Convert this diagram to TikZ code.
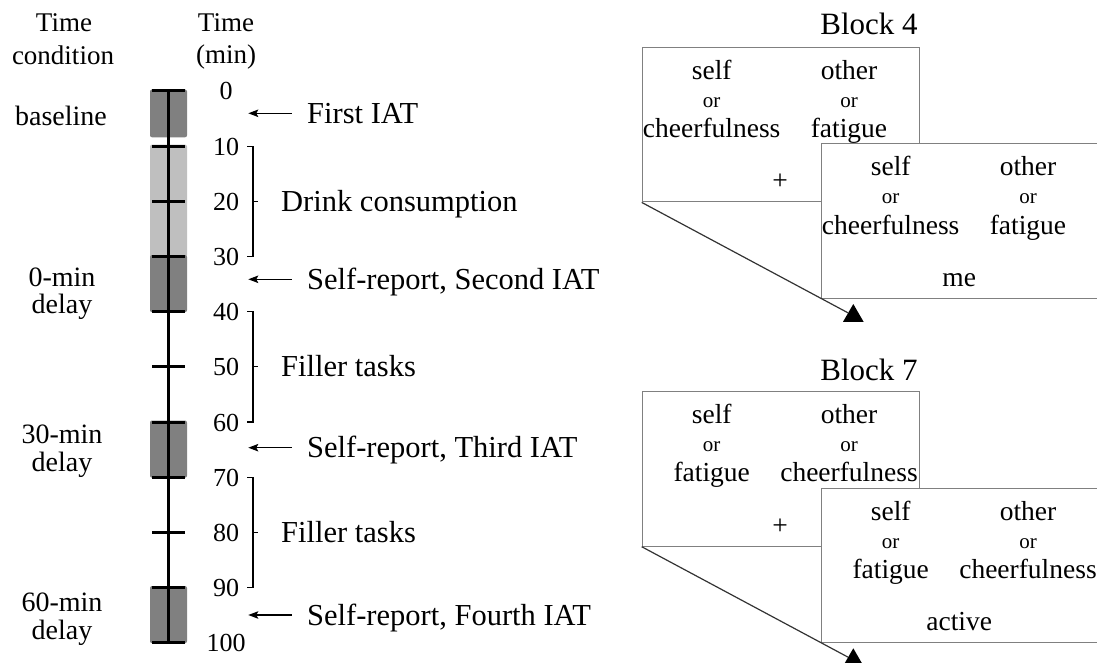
\documentclass[tikz,border=0pt]{standalone}
\usepackage{fontspec}
\setmainfont{Liberation Serif}
\usetikzlibrary{arrows.meta,positioning,shapes.geometric}

\tikzset{
  lbl/.style={font=\fontsize{27}{30}\selectfont, inner sep=0pt},
  cond/.style={font=\fontsize{28}{31}\selectfont, inner sep=0pt, anchor=base},
  num/.style={font=\fontsize{26}{29}\selectfont, inner sep=0pt, text height=18pt, text depth=0pt},
  event/.style={font=\fontsize{30.5}{34}\selectfont, inner sep=0pt, anchor=west,
    text height=20pt, text depth=0pt},
  blocklbl/.style={font=\fontsize{31}{34}\selectfont, inner sep=0pt, anchor=base},
  word/.style={font=\fontsize{27.5}{30}\selectfont, inner sep=0pt, anchor=base},
  orword/.style={font=\fontsize{21}{24}\selectfont, inner sep=0pt, anchor=base},
  screen/.style={draw=black!50, line width=1.2pt, fill=white, inner sep=0pt,
    minimum width=277pt, minimum height=154.5pt},
  phase/.style={rounded corners=2pt},
  link/.style={draw=black!80, line width=1.2pt},
  pointer/.style={regular polygon, regular polygon sides=3, fill=black,
    inner sep=0pt, minimum size=23.8pt},
}

% one IAT screen: name, top left corner, left word, right word, bottom text
\newcommand{\iatscreen}[5]{%
  \node[screen, anchor=north west] (#1) at (#2) {};
  \node[word]   (#1-l1) at ([shift={(70,32.6)}]#1.north west) {self};
  \node[orword] (#1-l2) at ([shift={(70,60.6)}]#1.north west) {or};
  \node[word]   (#1-l3) at ([shift={(70,90.8)}]#1.north west) {#3};
  \node[word]   (#1-r1) at ([shift={(207.3,32.6)}]#1.north west) {other};
  \node[orword] (#1-r2) at ([shift={(207.3,60.6)}]#1.north west) {or};
  \node[word]   (#1-r3) at ([shift={(207.3,90.8)}]#1.north west) {#4};
  \node[word]   (#1-c)  at ([shift={(138.5,143)}]#1.north west) {#5};
}

\begin{document}
\begin{tikzpicture}[x=1pt, y=-1pt,
    >={Stealth[length=10pt, width=7.5pt, inset=2pt]},
    declare function={ty(\t)=91+5.517*\t;}]
  \useasboundingbox (0,0) rectangle (1097,663);
  \clip (0,0) rectangle (1097,663);

  % Draw the headers
  \node[lbl, anchor=base] (head1a) at (64,31.7) {Time};
  \node[lbl, anchor=base] (head1b) at (63,65) {condition};
  \node[lbl, anchor=base] (head2a) at (226,31.7) {Time};
  \node[lbl, anchor=base] (head2b) at (226,64) {(min)};

  % Draw the phases
  \foreach \a/\b/\c in {0/8.3/black!50, 10/30/black!25, 30/40/black!50,
                        60/70/black!50, 90/100/black!50}
    \fill[phase, \c] (150,{ty(\a)-1.5}) rectangle (187,{ty(\b)+0.5});

  % Draw the time line
  \draw[line width=3pt] (168,{ty(0)}) -- (168,{ty(100)});
  \foreach \t in {0,10,...,100} {
    \draw[line width=3pt] (152,{ty(\t)}) -- (185,{ty(\t)});
    \node[num] (min\t) at (226,{ty(\t)}) {\t};
  }

  % Draw the time conditions
  \node[cond] (cond1) at (61,125.5) {baseline};
  \node[cond] (cond2a) at (62,286) {0-min};
  \node[cond] (cond2b) at (62,313) {delay};
  \node[cond] (cond3a) at (62,443) {30-min};
  \node[cond] (cond3b) at (62,471) {delay};
  \node[cond] (cond4a) at (62,611) {60-min};
  \node[cond] (cond4b) at (62,639) {delay};

  % Draw the brackets
  \foreach \a/\b in {10/30, 40/60, 70/90}
    \draw[line width=1.1pt] (247,{ty(\a)}) -- (253,{ty(\a)}) -- (253,{ty(\b)}) -- (247,{ty(\b)})
      (253,{ty((\a+\b)/2)}) -- (258,{ty((\a+\b)/2)});
  \node[event] (drink) at (281,{ty(20)}) {Drink consumption};
  \node[event] (filler1) at (281,{ty(50)}) {Filler tasks};
  \node[event] (filler2) at (281,{ty(80)}) {Filler tasks};

  % Draw the measurements
  \node[event] (iat1) at (307,113.3) {First IAT};
  \node[event] (iat2) at (307,279.3) {Self-report, Second IAT};
  \node[event] (iat3) at (307,447.7) {Self-report, Third IAT};
  \node[event] (iat4) at (307,615) {Self-report, Fourth IAT};
  \foreach \i in {1,...,4} {
    \coordinate[left=58.7pt of iat\i.west] (tip\i);
    \draw[->, line width=1.2pt, shorten <=15.3pt] (iat\i.west) -- (tip\i);
  }

  % Draw block 4
  \node[blocklbl] (block4) at (869,34.3) {Block 4};
  \iatscreen{b4a}{641.7,46.7}{cheerfulness}{fatigue}{+}
  \iatscreen{b4b}{820.7,143.3}{cheerfulness}{fatigue}{me}
  \node[pointer] (b4tri) at (853.3,315.9) {};
  \draw[link] (b4a.south west) -- (b4tri.side 1);

  % Draw block 7
  \node[blocklbl] (block7) at (869,380) {Block 7};
  \iatscreen{b7a}{641.7,391}{fatigue}{cheerfulness}{+}
  \iatscreen{b7b}{820.7,487.7}{fatigue}{cheerfulness}{active}
  \node[pointer] (b7tri) at (853.3,660.2) {};
  \draw[link] (b7a.south west) -- (b7tri.side 1);
\end{tikzpicture}
\end{document}
